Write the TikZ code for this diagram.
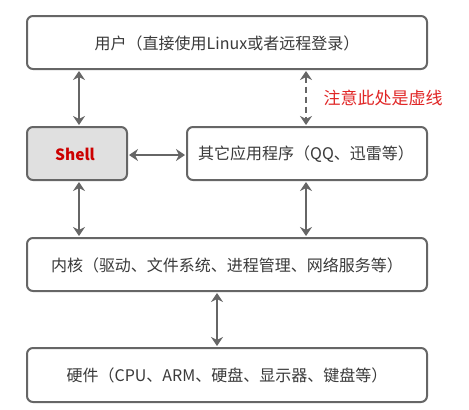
\documentclass[tikz,border=0pt]{standalone}
\usepackage{fontspec}
\setmainfont{Noto Sans CJK SC}
\usetikzlibrary{arrows.meta}
\definecolor{linegray}{HTML}{666666}
\definecolor{boxfill}{HTML}{E0E0E0}
\definecolor{txtgray}{HTML}{3A3A3A}
\definecolor{shellred}{HTML}{CC0000}
\definecolor{notered}{HTML}{E02525}
\begin{document}
\begin{tikzpicture}[x=1pt,y=-1pt,
  box/.style={draw=linegray, line width=2pt, rounded corners=6pt, fill=white, inner sep=0pt},
  lbl/.style={font=\fontsize{16}{18}\selectfont, text=txtgray},
  conn/.style={draw=linegray, line width=2pt, {Stealth[length=9pt,width=12pt,inset=3pt]}-{Stealth[length=9pt,width=12pt,inset=3pt]}},
  dconn/.style={conn, dash pattern=on 6pt off 4pt}
]
\useasboundingbox (0,0) rectangle (469,410);
\draw[box] (27,16) rectangle (427,69);
\node[lbl] (user) at (227,43) {用户（直接使用Linux或者远程登录）};
\draw[box, fill=boxfill] (27,127) rectangle (127,180);
\node[font=\fontsize{15.5}{17}\selectfont\bfseries, text=shellred] (shell) at (75,154) {Shell};
\draw[box] (187,127) rectangle (427,180);
\node[lbl] (apps) at (306,154) {其它应用程序（QQ、迅雷等）};
\draw[box] (27,238) rectangle (427,291);
\node[lbl] (kernel) at (227,265) {内核（驱动、文件系统、进程管理、网络服务等）};
\draw[box] (27,348) rectangle (427,402);
\node[lbl] (hw) at (227,375) {硬件（CPU、ARM、硬盘、显示器、键盘等）};
\node[font=\fontsize{17}{19}\selectfont, text=notered, anchor=west] (note) at (320,98) {注意此处是虚线};
\coordinate (a1) at (79,71); \coordinate (a2) at (79,125);
\coordinate (b1) at (79,182); \coordinate (b2) at (79,236);
\coordinate (c1) at (306,71); \coordinate (c2) at (306,125);
\coordinate (d1) at (306,182); \coordinate (d2) at (306,236);
\coordinate (e1) at (129,155); \coordinate (e2) at (185,155);
\coordinate (f1) at (217,293); \coordinate (f2) at (217,346);
\draw[conn] (a1) -- (a2);
\draw[conn] (b1) -- (b2);
\draw[dconn] (c1) -- (c2);
\draw[conn] (d1) -- (d2);
\draw[conn] (e1) -- (e2);
\draw[conn] (f1) -- (f2);
\end{tikzpicture}
\end{document}
